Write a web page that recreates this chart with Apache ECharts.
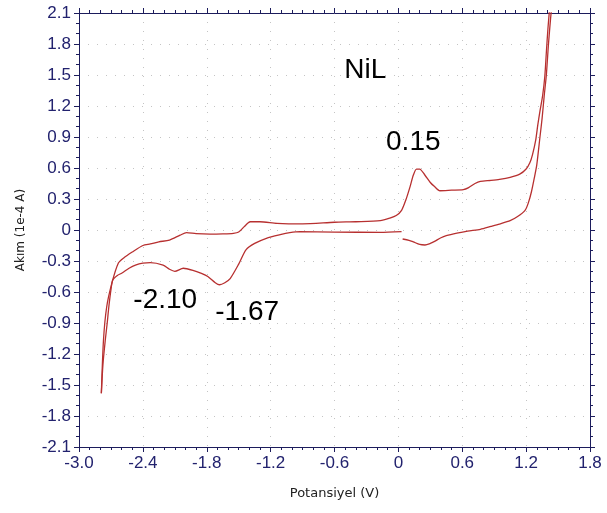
<!DOCTYPE html>
<html>
<head>
<meta charset="utf-8">
<script src="https://cdn.jsdelivr.net/npm/echarts@6/dist/echarts.min.js"></script>
<style>
html,body{margin:0;padding:0;background:#fff;}
#chart{width:607px;height:513px;}
</style>
</head>
<body>
<div id="chart"></div>
<script>
// Forward scan: 0 V -> positive limit (Akım in 1e-4 A)
const forwardV = [0.04, 0.10, 0.14, 0.20, 0.25, 0.30, 0.34, 0.40, 0.45, 0.55, 0.65, 0.77, 0.87, 0.95, 1.05, 1.12, 1.19, 1.22, 1.25, 1.28, 1.30, 1.33, 1.35, 1.37, 1.39, 1.41, 1.43, 1.445];
const forwardI = [-0.087, -0.10, -0.115, -0.14, -0.145, -0.13, -0.11, -0.075, -0.055, -0.03, -0.01, 0.007, 0.035, 0.058, 0.09, 0.13, 0.19, 0.26, 0.37, 0.52, 0.63, 0.90, 1.08, 1.30, 1.50, 1.80, 2.05, 2.2];

// Reverse scan: positive limit -> negative limit
const reverseV = [1.425, 1.405, 1.39, 1.375, 1.355, 1.33, 1.31, 1.29, 1.26, 1.235, 1.20, 1.14, 1.05, 0.95, 0.87, 0.77, 0.72, 0.66, 0.61, 0.50, 0.39, 0.34, 0.30, 0.25, 0.20, 0.17, 0.14, 0.11, 0.07, 0.03, -0.02, -0.08, -0.17, -0.4, -0.6, -0.9, -1.14, -1.30, -1.39, -1.41, -1.45, -1.50, -1.55, -1.65, -1.77, -1.90, -1.99, -2.05, -2.15, -2.25, -2.33, -2.40, -2.50, -2.58, -2.63, -2.69, -2.74, -2.77, -2.79];
const reverseI = [2.2, 1.95, 1.72, 1.48, 1.30, 1.15, 1.02, 0.87, 0.73, 0.65, 0.59, 0.54, 0.51, 0.49, 0.48, 0.47, 0.45, 0.41, 0.39, 0.385, 0.38, 0.42, 0.46, 0.53, 0.59, 0.59, 0.53, 0.42, 0.29, 0.19, 0.14, 0.115, 0.09, 0.08, 0.075, 0.06, 0.065, 0.08, 0.08, 0.07, 0.03, -0.02, -0.032, -0.037, -0.039, -0.035, -0.026, -0.05, -0.097, -0.115, -0.135, -0.15, -0.213, -0.27, -0.32, -0.51, -0.745, -1.065, -1.58];

// Return scan: negative limit -> 0 V
const returnV = [-2.79, -2.775, -2.753, -2.735, -2.72, -2.70, -2.683, -2.64, -2.596, -2.53, -2.47, -2.40, -2.33, -2.21, -2.15, -2.10, -2.02, -1.93, -1.85, -1.79, -1.72, -1.68, -1.63, -1.58, -1.50, -1.43, -1.35, -1.24, -1.11, -1.02, -0.925, -0.6, -0.17, 0.03];
const returnI = [-1.58, -1.30, -1.065, -0.90, -0.745, -0.58, -0.484, -0.44, -0.416, -0.37, -0.339, -0.32, -0.316, -0.34, -0.38, -0.40, -0.37, -0.39, -0.42, -0.45, -0.51, -0.53, -0.51, -0.47, -0.33, -0.19, -0.13, -0.08, -0.045, -0.026, -0.016, -0.02, -0.023, -0.016];

// Annotations (text, V, I)
const noteText = ["NiL", "0.15", "-2.10", "-1.67"];
const noteV = [-0.31, 0.14, -2.19, -1.42];
const noteI = [1.55, 0.85, -0.68, -0.80];

const xTicks = {min: -3.0, max: 1.8, interval: 0.6};
const yTicks = {min: -2.1, max: 2.1, interval: 0.3};

const pair = (a, b) => a.map((v, i) => [v, b[i]]);
const fmt = v => (Math.abs(v) < 1e-9 ? '0' : v.toFixed(1));

const axisCol = '#1c1c5c';
const lblCol = '#22226e';
const curveCol = '#b73030';
const font = 'Liberation Sans, Arial, sans-serif';

const chart = echarts.init(document.getElementById('chart'), null, {renderer: 'canvas'});

const baseX = {
  type: 'value', min: xTicks.min, max: xTicks.max, interval: xTicks.interval,
  axisLine: {show: true, onZero: false, lineStyle: {color: axisCol, width: 1}},
  axisTick: {show: true, inside: false, length: 5, lineStyle: {color: axisCol}},
  minorTick: {show: true, splitNumber: 6, length: 3, lineStyle: {color: axisCol}},
};
const baseY = {
  type: 'value', min: yTicks.min, max: yTicks.max, interval: yTicks.interval,
  axisLine: {show: true, onZero: false, lineStyle: {color: axisCol, width: 1}},
  axisTick: {show: true, inside: false, length: 5, lineStyle: {color: axisCol}},
  minorTick: {show: true, splitNumber: 3, length: 3, lineStyle: {color: axisCol}},
};

const option = {
  backgroundColor: '#fff',
  animation: false,
  grid: {left: 79, right: 17, top: 13, bottom: 66, containLabel: false},
  xAxis: [
    Object.assign({}, baseX, {
      position: 'bottom',
      name: 'Potansiyel (V)', nameLocation: 'middle', nameGap: 40,
      nameTextStyle: {color: '#222', fontSize: 13, fontFamily: 'DejaVu Sans, sans-serif'},
      axisLabel: {color: lblCol, fontSize: 17, fontFamily: font, margin: 8, formatter: fmt},
      splitLine: {show: true, lineStyle: {color: '#c4c4c4', type: [1, 8], width: 1}},
    }),
    Object.assign({}, baseX, {
      position: 'top',
      axisLabel: {show: false},
      splitLine: {show: false},
    })
  ],
  yAxis: [
    Object.assign({}, baseY, {
      position: 'left',
      name: 'Akım (1e-4 A)', nameLocation: 'middle', nameGap: 52, nameRotate: 90,
      nameTextStyle: {color: '#222', fontSize: 12, fontFamily: 'DejaVu Sans, sans-serif'},
      axisLabel: {color: lblCol, fontSize: 17, fontFamily: font, margin: 8, formatter: fmt},
      splitLine: {show: true, lineStyle: {color: '#c4c4c4', type: [1, 8], width: 1}},
    }),
    Object.assign({}, baseY, {
      position: 'right',
      axisLabel: {show: false},
      splitLine: {show: false},
    })
  ],
  series: [
    {type: 'line', data: pair(forwardV, forwardI), showSymbol: false, symbol: 'none', smooth: 0.25, clip: true,
     lineStyle: {color: curveCol, width: 1.3}},
    {type: 'line', data: pair(reverseV, reverseI), showSymbol: false, symbol: 'none', smooth: 0.25, clip: true,
     lineStyle: {color: curveCol, width: 1.3}},
    {type: 'line', data: pair(returnV, returnI), showSymbol: false, symbol: 'none', smooth: 0.25, clip: true,
     lineStyle: {color: curveCol, width: 1.3}},
    {type: 'scatter', data: noteV.map((v, i) => ({value: [v, noteI[i]], name: noteText[i]})),
     symbolSize: 1, itemStyle: {color: 'rgba(0,0,0,0)'}, silent: true,
     label: {show: true, position: 'inside', formatter: p => p.name, color: '#000000',
             textBorderWidth: 0, textBorderColor: 'transparent', opacity: 1,
             fontSize: 28, fontFamily: font}}
  ]
};
chart.setOption(option);
</script>
</body>
</html>
